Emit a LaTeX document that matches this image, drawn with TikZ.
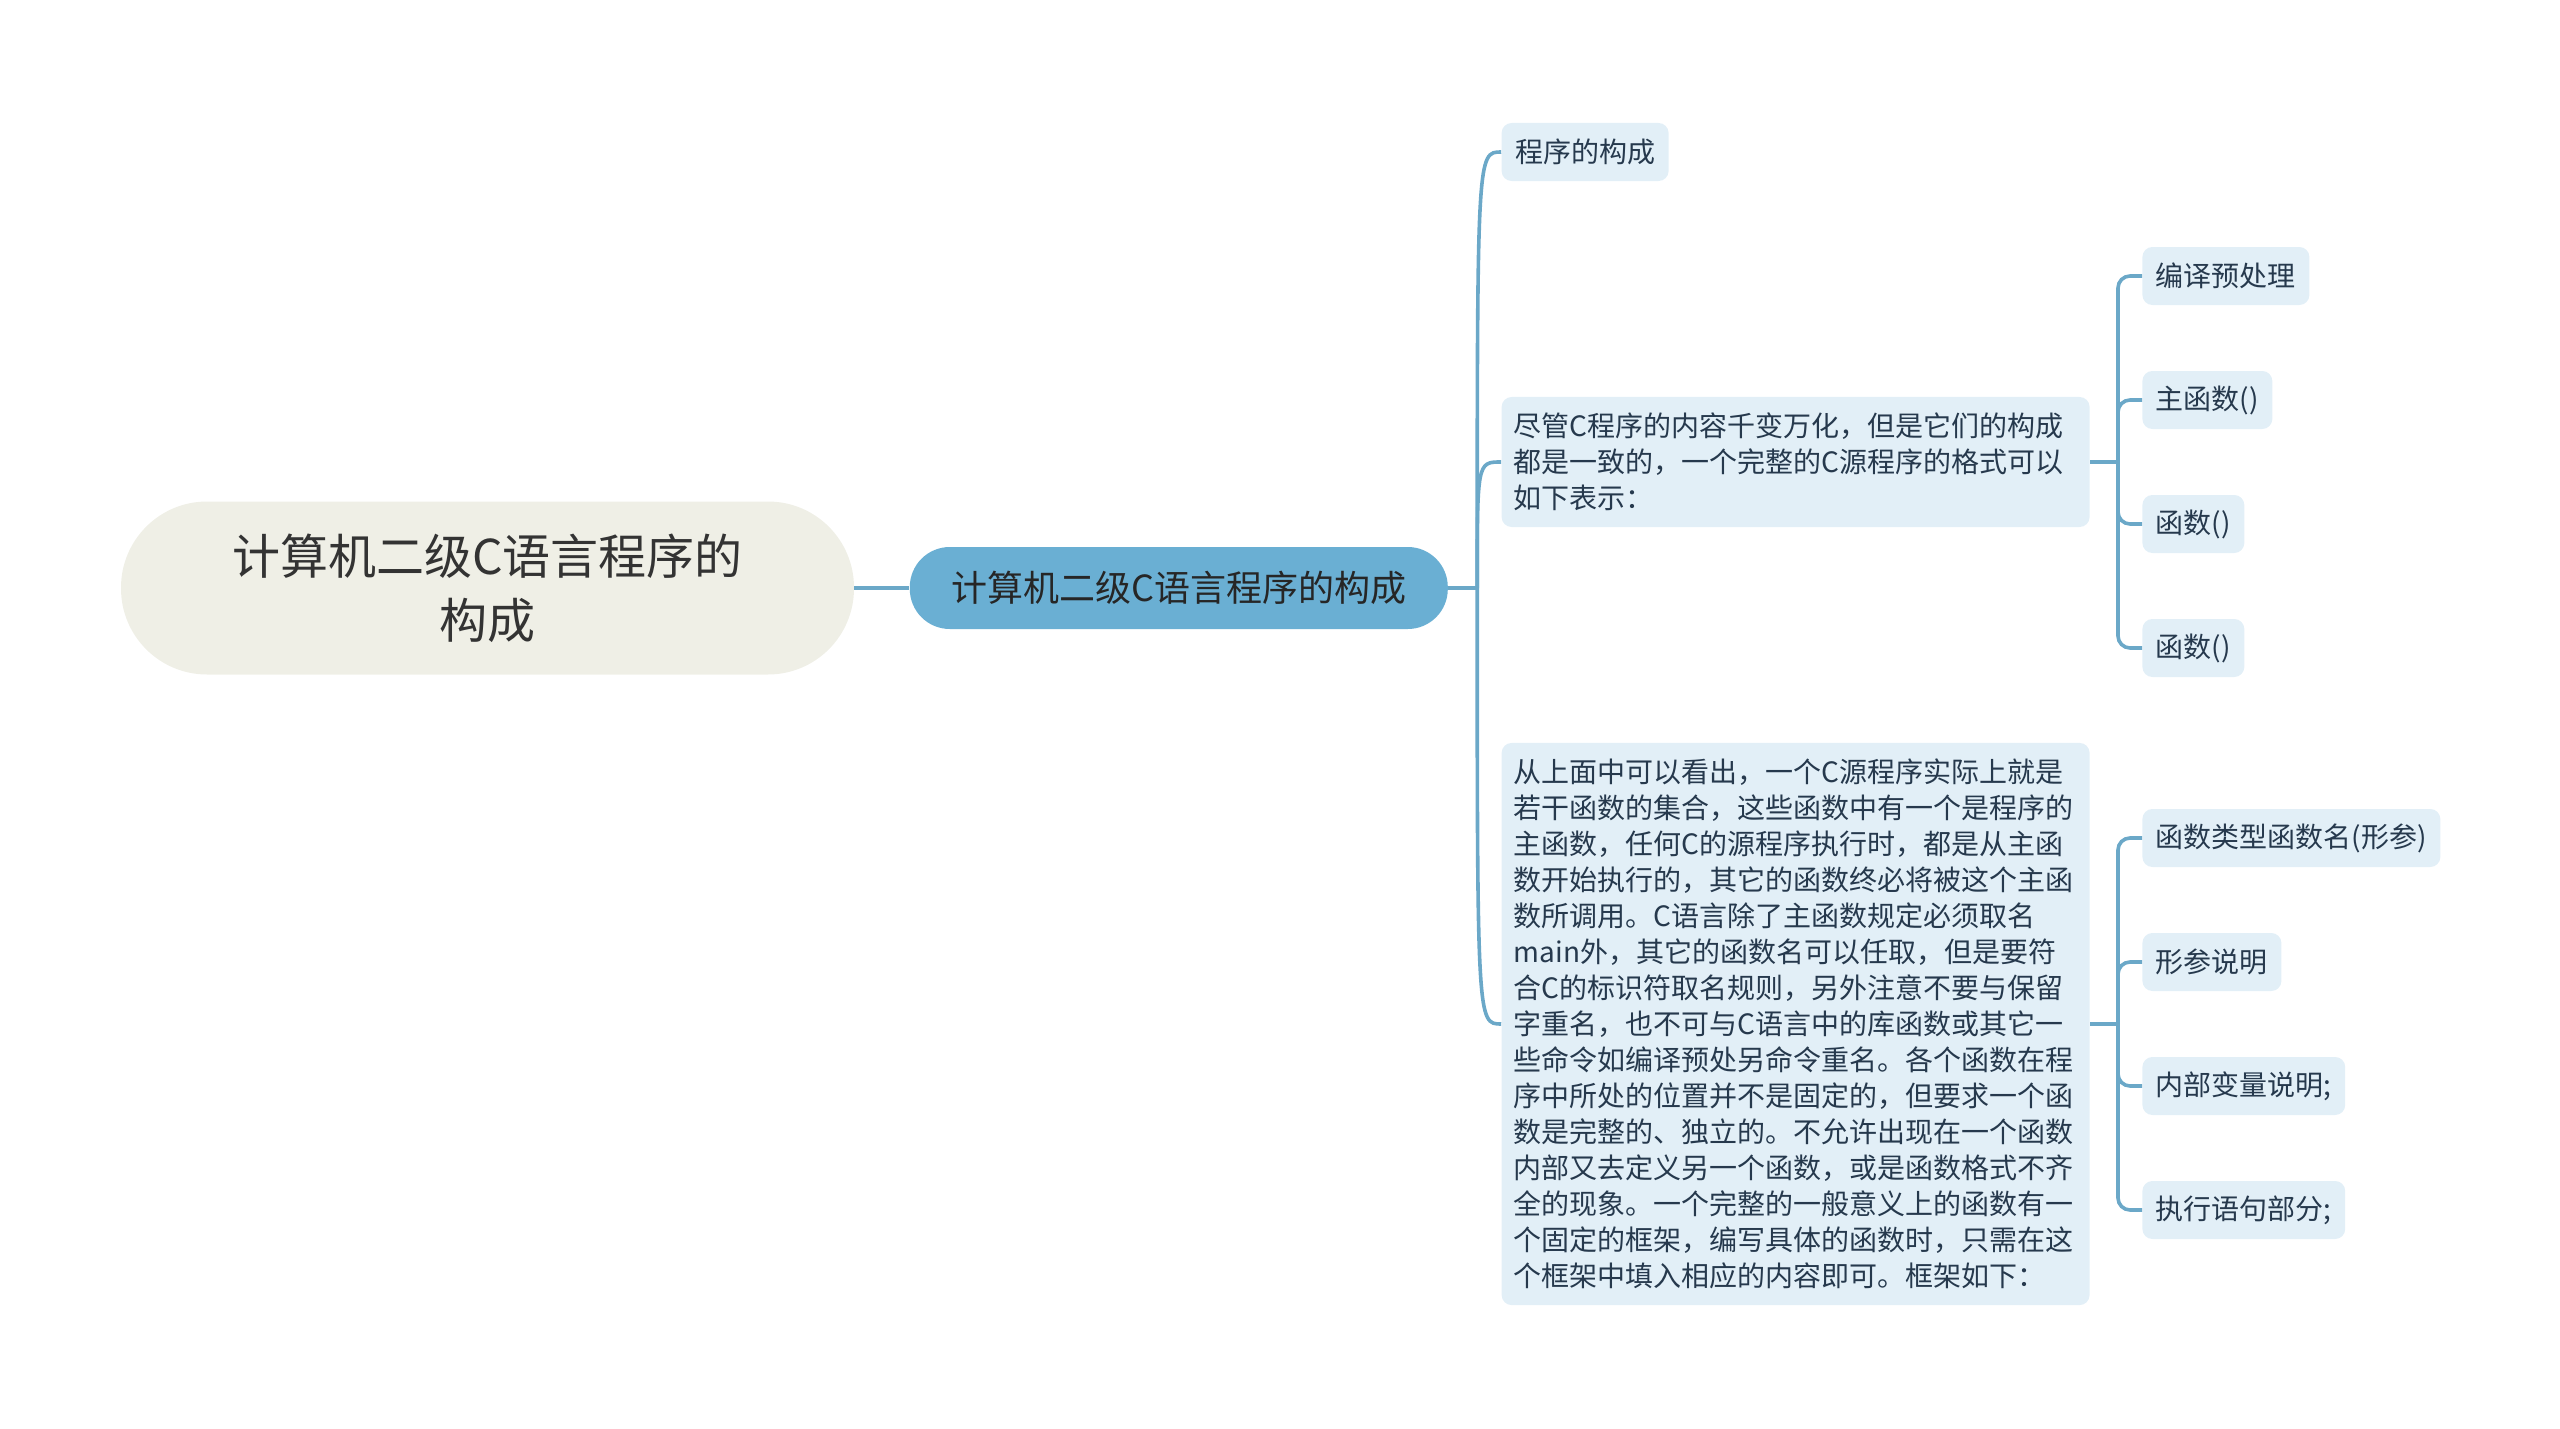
\documentclass[tikz,border=0pt]{standalone}
\usepackage{fontspec}
\setmainfont{Noto Sans CJK SC}
\usetikzlibrary{positioning}

\definecolor{rootfill}{HTML}{EFEFE6}
\definecolor{mainfill}{HTML}{6AAFD3}
\definecolor{leaffill}{HTML}{E2EFF7}
\definecolor{linkblue}{HTML}{6BA8C8}
\definecolor{leaftext}{HTML}{26394D}

\begin{document}
\begin{tikzpicture}[
    node distance=26.5pt,
    rootnode/.style={rectangle, rounded corners=43pt, fill=rootfill, minimum width=366.5pt, minimum height=86.5pt, align=center, font=\fontsize{24}{32}\selectfont, text=black!80},
    mainnode/.style={rectangle, rounded corners=20pt, fill=mainfill, minimum width=269pt, minimum height=41pt, font=\fontsize{18}{22}\selectfont, text=black!85},
    leaf/.style={rectangle, rounded corners=5pt, fill=leaffill, minimum height=29pt, inner xsep=6.75pt, font=\fontsize{14}{18}\selectfont, text=leaftext},
    textleaf/.style={leaf, text width=282pt, align=left, inner xsep=6pt, inner ysep=8pt},
    link/.style={draw=linkblue, line width=1.8pt},
    elbow/.style={link, rounded corners=6pt}
]
    \useasboundingbox (0,0) rectangle (1280pt,-714.5pt);

    % Root and main topic
    \node[rootnode] (root) at (243.75pt,-294pt) {计算机二级C语言程序的\\构成};
    \node[mainnode, right=27.5pt of root] (main) {计算机二级C语言程序的构成};

    % First level
    \node[leaf, right=of main, yshift=218pt] (form) {程序的构成};
    \node[textleaf, right=of main, yshift=63pt] (intro) {尽管C程序的内容千变万化，但是它们的构成\\都是一致的，一个完整的C源程序的格式可以\\如下表示：};
    \node[textleaf, right=of main, yshift=-218pt] (detail) {从上面中可以看出，一个C源程序实际上就是\\若干函数的集合，这些函数中有一个是程序的\\主函数，任何C的源程序执行时，都是从主函\\数开始执行的，其它的函数终必将被这个主函\\数所调用。C语言除了主函数规定必须取名\\main外，其它的函数名可以任取，但是要符\\合C的标识符取名规则，另外注意不要与保留\\字重名，也不可与C语言中的库函数或其它一\\些命令如编译预处另命令重名。各个函数在程\\序中所处的位置并不是固定的，但要求一个函\\数是完整的、独立的。不允许出现在一个函数\\内部又去定义另一个函数，或是函数格式不齐\\全的现象。一个完整的一般意义上的函数有一\\个固定的框架，编写具体的函数时，只需在这\\个框架中填入相应的内容即可。框架如下：};

    % Parts of a program
    \node[leaf, right=26pt of intro, yshift=93pt] (prep) {编译预处理};
    \node[leaf, right=26pt of intro, yshift=31pt] (mainfn) {主函数()};
    \node[leaf, right=26pt of intro, yshift=-31pt] (fna) {函数()};
    \node[leaf, right=26pt of intro, yshift=-93pt] (fnb) {函数()};

    % Parts of a function
    \node[leaf, right=26pt of detail, yshift=93pt] (head) {函数类型函数名(形参)};
    \node[leaf, right=26pt of detail, yshift=31pt] (params) {形参说明};
    \node[leaf, right=26pt of detail, yshift=-31pt] (locals) {内部变量说明;};
    \node[leaf, right=26pt of detail, yshift=-93pt] (body) {执行语句部分;};

    % Connectors
    \draw[link] (root.east) -- (main.west);
    \draw[link] (main.east) -- ++(14.5pt,0) coordinate (hubA);
    \foreach \n in {form, intro, detail}
        \draw[link] (hubA) .. controls (hubA |- \n.west) .. (\n.west);
    \draw[link] (intro.east) -- ++(14pt,0) coordinate (hubB);
    \foreach \n in {prep, mainfn, fna, fnb}
        \draw[elbow] (hubB) |- (\n.west);
    \draw[link] (detail.east) -- ++(14pt,0) coordinate (hubC);
    \foreach \n in {head, params, locals, body}
        \draw[elbow] (hubC) |- (\n.west);
\end{tikzpicture}
\end{document}
